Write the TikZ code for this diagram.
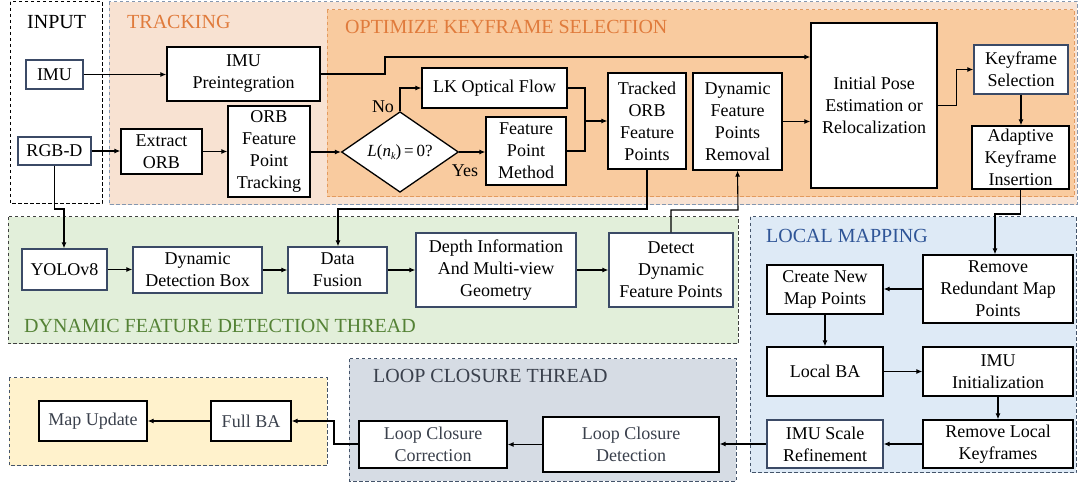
\documentclass[tikz,border=0pt]{standalone}
\usepackage{fontspec}
\setmainfont{Liberation Serif}
\usetikzlibrary{shapes.geometric,arrows.meta}

\definecolor{trackfill}{HTML}{F8E2D2}
\definecolor{optfill}{HTML}{F9CB9F}
\definecolor{optedge}{HTML}{E39A5E}
\definecolor{orangetxt}{HTML}{E07B3C}
\definecolor{greenfill}{HTML}{E2EFDA}
\definecolor{greentxt}{HTML}{548235}
\definecolor{bluefill}{HTML}{DEEAF6}
\definecolor{bluetxt}{HTML}{2F5597}
\definecolor{loopfill}{HTML}{D6DCE4}
\definecolor{looptxt}{HTML}{3A404C}
\definecolor{yellowfill}{HTML}{FFF2CC}
\definecolor{slate}{HTML}{44546A}
\definecolor{grayedge}{HTML}{8497B0}
\definecolor{boxedge}{HTML}{3B4A66}

\tikzset{
  region/.style={dash pattern=on 3.5pt off 2.5pt, line width=1pt},
  regionlabel/.style={anchor=west, inner sep=0pt, font=\fontsize{20}{24}\selectfont},
  box/.style={draw=black, fill=white, line width=1.3pt, align=center, inner sep=1pt,
              font=\fontsize{18}{22}\selectfont},
  sbox/.style={box, draw=boxedge},
  arr/.style={line width=1.1pt, -{Latex[length=6pt,width=5pt]}},
  wire/.style={line width=1.1pt},
}

\begin{document}
\begin{tikzpicture}[x=1pt,y=-1pt]
\useasboundingbox (0,0) rectangle (1080,486);
\fill[white] (0,0) rectangle (1080,486);

% thread and stage regions
\draw[region, draw=black, fill=white] (10,2) rectangle (102,204);
\draw[region, draw=grayedge, fill=trackfill] (109,2) rectangle (1077,205);
\draw[region, draw=optedge, fill=optfill] (327,10) rectangle (1074,197);
\draw[region, draw=black!75, fill=greenfill] (8,217) rectangle (738,344);
\draw[region, draw=slate, fill=bluefill] (750,217) rectangle (1076,473);
\draw[region, draw=slate, fill=loopfill] (349,359) rectangle (736,481);
\draw[region, draw=slate, fill=yellowfill] (9,378) rectangle (327,466);

\node[regionlabel] (lbinput) at (27,22) {INPUT};
\node[regionlabel, text=orangetxt] (lbtrack) at (127,22) {TRACKING};
\node[regionlabel, text=orangetxt] (lbopt) at (345,27) {OPTIMIZE KEYFRAME SELECTION};
\node[regionlabel, text=greentxt] (lbdyn) at (24,326) {DYNAMIC FEATURE DETECTION THREAD};
\node[regionlabel, text=bluetxt] (lblocal) at (766,236) {LOCAL MAPPING};
\node[regionlabel, text=looptxt] (lbloop) at (373,376) {LOOP CLOSURE THREAD};

% input and tracking
\node[sbox, minimum width=57, minimum height=29] (imu) at (54.5,74.5) {IMU};
\node[sbox, minimum width=73, minimum height=28] (rgbd) at (54.5,151) {RGB-D};
\node[box, minimum width=153, minimum height=54] (preint) at (243.5,74) {IMU\\Preintegration};
\node[box, minimum width=81, minimum height=45] (extract) at (161.5,151.5) {Extract\\ORB};
\node[box, minimum width=82, minimum height=91] (orbtrack) at (269,151.5) {ORB\\Feature\\Point\\Tracking};

% keyframe selection
\node[draw=black, fill=white, line width=1.3pt, diamond, inner sep=0pt,
      minimum width=117, minimum height=54, font=\fontsize{17}{20}\selectfont]
      (dec) at (400,152) {\textit{L}(\textit{n}\raisebox{-3pt}{\fontsize{10}{12}\selectfont\textit{k}})\,=\,0?};
\node[box, minimum width=145, minimum height=40] (lk) at (494.5,88) {LK Optical Flow};
\node[box, minimum width=80, minimum height=68] (fpm) at (526,151) {Feature\\Point\\Method};
\node[box, minimum width=78, minimum height=96] (tracked) at (647,121) {Tracked\\ORB\\Feature\\Points};
\node[box, minimum width=89, minimum height=97] (dynrem) at (737.5,121.5) {Dynamic\\Feature\\Points\\Removal};
\node[box, minimum width=126, minimum height=165] (initpose) at (874,105.5) {Initial Pose\\Estimation or\\Relocalization};
\node[sbox, minimum width=94, minimum height=49] (kfsel) at (1021,69.5) {Keyframe\\Selection};
\node[box, minimum width=97, minimum height=63] (adaptive) at (1020.5,157.5) {Adaptive\\Keyframe\\Insertion};

% dynamic feature detection thread
\node[sbox, minimum width=85, minimum height=41] (yolo) at (64.5,269.5) {YOLOv8};
\node[sbox, minimum width=129, minimum height=46] (ddbox) at (197.5,270) {Dynamic\\Detection Box};
\node[sbox, minimum width=99, minimum height=46] (fusion) at (337.5,270) {Data\\Fusion};
\node[sbox, minimum width=160, minimum height=74] (depth) at (496,270) {Depth Information\\And Multi-view\\Geometry};
\node[sbox, minimum width=124, minimum height=74] (detect) at (671,270) {Detect\\Dynamic\\Feature Points};

% local mapping
\node[box, minimum width=150, minimum height=68] (redund) at (998,289) {Remove\\Redundant Map\\Points};
\node[box, minimum width=116, minimum height=49] (createnew) at (825,289.5) {Create New\\Map Points};
\node[box, minimum width=116, minimum height=49] (localba) at (825,371.5) {Local BA};
\node[box, minimum width=150, minimum height=49] (imuinit) at (998,371.5) {IMU\\Initialization};
\node[sbox, minimum width=116, minimum height=48] (imuscale) at (825,444) {IMU Scale\\Refinement};
\node[box, minimum width=150, minimum height=48] (remlocal) at (998,444) {Remove Local\\Keyframes};

% loop closure and global update
\node[box, text=looptxt, minimum width=176, minimum height=55] (lcdet) at (631,444.5) {Loop Closure\\Detection};
\node[box, text=looptxt, minimum width=148, minimum height=47] (lccor) at (433,444.5) {Loop Closure\\Correction};
\node[box, text=looptxt, minimum width=80, minimum height=40] (fullba) at (251,421) {Full BA};
\node[box, text=looptxt, minimum width=108, minimum height=40] (mapupd) at (93,421) {Map Update};

% bend points
\coordinate (jimu) at (385,57);
\coordinate (jmerge) at (585,121);
\coordinate (jins) at (995,214);
\coordinate (jfus) at (338,209);
\coordinate (jdyn) at (738,210);
\coordinate (jyolo) at (64,209);
\coordinate (jfull) at (334,444);

% connectors: tracking
\draw[arr] (imu.east) -- (imu.east -| preint.west);
\draw[arr] (preint.east) -- (preint.east -| jimu) -- (jimu) -- (jimu -| initpose.west);
\draw[arr] (rgbd.east) -- (rgbd.east -| extract.west);
\draw[arr] (extract.east) -- (extract.east -| orbtrack.west);
\draw[arr] (orbtrack.east |- dec.west) -- (dec.west);
\draw[arr] (dec.north) |- (lk.west);
\draw[arr] (dec.east) -- (dec.east -| fpm.west);
\draw[wire] (lk.east) -| (jmerge);
\draw[wire] (fpm.east) -| (jmerge);
\draw[arr] (jmerge) -- (jmerge -| tracked.west);
\draw[arr] (dynrem.east) -- (dynrem.east -| initpose.west);
\draw[arr] (initpose.east) -- ++(19,0) |- (kfsel.west);
\draw[arr] (kfsel.south) -- (kfsel.south |- adaptive.north);
\draw[arr] (adaptive.south) |- (jins) -- (jins |- redund.north);
\node[font=\fontsize{18}{22}\selectfont, inner sep=0pt] (lblno) at (383,107) {No};
\node[font=\fontsize{18}{22}\selectfont, inner sep=0pt] (lblyes) at (465,171) {Yes};

% connectors: dynamic feature detection
\draw[arr] (tracked.south) |- (jfus) -- (jfus |- fusion.north);
\draw[arr] (detect.north) |- (jdyn) -- (dynrem.south);
\draw[arr] (rgbd.south) |- (jyolo) -- (jyolo |- yolo.north);
\draw[arr] (yolo.east) -- (yolo.east -| ddbox.west);
\draw[arr] (ddbox.east) -- (fusion.west);
\draw[arr] (fusion.east) -- (fusion.east -| depth.west);
\draw[arr] (depth.east) -- (detect.west);

% connectors: local mapping
\draw[arr] (redund.west) -- (redund.west -| createnew.east);
\draw[arr] (createnew.south) -- (localba.north);
\draw[arr] (localba.east) -- (imuinit.west);
\draw[arr] (imuinit.south) -- (remlocal.north);
\draw[arr] (remlocal.west) -- (imuscale.east);

% connectors: loop closure
\draw[arr] (imuscale.west) -- (imuscale.west -| lcdet.east);
\draw[arr] (lcdet.west) -- (lcdet.west -| lccor.east);
\draw[arr] (lccor.west |- jfull) -- (jfull) |- (fullba.east);
\draw[arr] (fullba.west) -- (mapupd.east);
\end{tikzpicture}
\end{document}
